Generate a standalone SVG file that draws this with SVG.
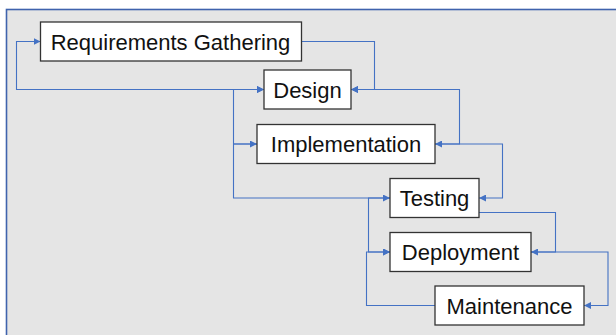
<svg xmlns="http://www.w3.org/2000/svg" width="616" height="335" viewBox="0 0 616 335">
  <style>
    .frame { fill: #e5e5e5; stroke: #3f63ad; stroke-width: 1.6; }
    .box { fill: #ffffff; stroke: #333333; stroke-width: 1.3; }
    .label { font-family: "Liberation Sans", Arial, sans-serif; font-size: 22px; fill: #111111; text-anchor: middle; }
    .conn { fill: none; stroke: #4472c4; stroke-width: 1.1; }
  </style>
  <defs>
    <marker id="arrow" viewBox="0 0 7 7" refX="7" refY="3.5" markerWidth="7" markerHeight="7" markerUnits="userSpaceOnUse" orient="auto-start-reverse">
      <path d="M0,0 L7,3.5 L0,7 Z" fill="#4472c4"/>
    </marker>
  </defs>

  <!-- background panel -->
  <rect class="frame" x="6.5" y="9.5" width="640" height="360"/>

  <!-- connectors -->
  <g id="connectors">
    <path class="conn" d="M301,41.5 H374.5 V89.5 H351" marker-end="url(#arrow)"/>
    <path class="conn" d="M435,144 H459.5 V89.5 H351" marker-end="url(#arrow)"/>
    <path class="conn" d="M479,198 H502.5 V144 H435" marker-start="url(#arrow)" marker-end="url(#arrow)"/>
    <path class="conn" d="M479,212.5 H555.5 V252 H531" marker-end="url(#arrow)"/>
    <path class="conn" d="M531,252 H608 V305.5 H584" marker-end="url(#arrow)"/>
    <path class="conn" d="M264,89.5 H16.5 V41.5 H40.5" marker-start="url(#arrow)" marker-end="url(#arrow)"/>
    <path class="conn" d="M257,144 H233.5 V89.5 H264" marker-end="url(#arrow)"/>
    <path class="conn" d="M390,198 H233.5 V144 H257" marker-start="url(#arrow)" marker-end="url(#arrow)"/>
    <path class="conn" d="M390,198 H368.5 V252 H390" marker-end="url(#arrow)"/>
    <path class="conn" d="M435,305.5 H366.5 V252 H390" marker-end="url(#arrow)"/>
  </g>

  <!-- process stages -->
  <g id="requirements">
    <rect class="box" x="40.5" y="22" width="261" height="39"/>
    <text class="label" x="170.5" y="49.5">Requirements Gathering</text>
  </g>
  <g id="design">
    <rect class="box" x="264" y="70" width="87" height="39"/>
    <text class="label" x="307.5" y="97.5">Design</text>
  </g>
  <g id="implementation">
    <rect class="box" x="257" y="124.5" width="178" height="39"/>
    <text class="label" x="346" y="152">Implementation</text>
  </g>
  <g id="testing">
    <rect class="box" x="390" y="178.5" width="89" height="39"/>
    <text class="label" x="434.5" y="206">Testing</text>
  </g>
  <g id="deployment">
    <rect class="box" x="390" y="232.5" width="141" height="39"/>
    <text class="label" x="460.5" y="260">Deployment</text>
  </g>
  <g id="maintenance">
    <rect class="box" x="435" y="286" width="149" height="39"/>
    <text class="label" x="509.5" y="313.5">Maintenance</text>
  </g>
</svg>
